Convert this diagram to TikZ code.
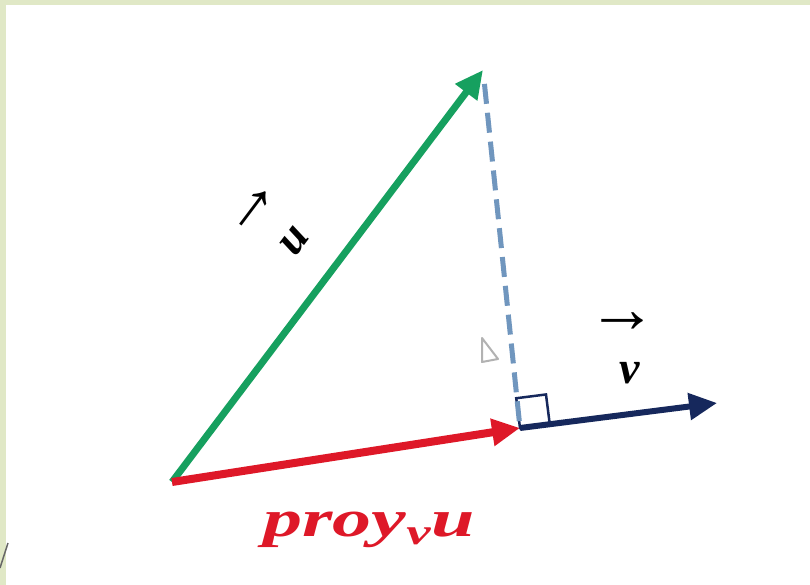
\documentclass[tikz,border=0pt]{standalone}
\usepackage{amsmath}
\usepackage{fontspec}
\setmainfont{Liberation Serif}
\usetikzlibrary{arrows.meta, calc}

\definecolor{vecgreen}{RGB}{22,160,95}
\definecolor{vecred}{RGB}{222,24,40}
\definecolor{vecnavy}{RGB}{22,40,92}
\definecolor{dashblue}{RGB}{112,150,190}
\definecolor{slidegreen}{RGB}{224,232,198}

\begin{document}
\begin{tikzpicture}[
    x=1pt, y=-1pt,
    vector/.style={line width=#1, -{Triangle[length=28pt, width=26pt]}},
    veclabel/.style={font=\fontsize{46}{46}\selectfont\bfseries\itshape, inner sep=0pt},
    arrowlabel/.style={font=\fontsize{70}{70}\selectfont\bfseries, inner sep=0pt}
]
% slide background
\useasboundingbox (0,0) rectangle (810,585);
\fill[slidegreen] (0,0) rectangle (810,585);
\fill[white] (6,5) rectangle (810,585);
\draw[black!60, line width=1.5pt] (8,543) -- (0,568);

\coordinate (O) at (172,482);
\coordinate (U) at (483,70);
\coordinate (P) at (520,428);
\coordinate (V) at (717,403);

% right angle mark
\coordinate (Sa) at ($(P)!30pt!(V)$);
\coordinate (Sb) at ($(P)!30pt!90:(V)$);
\draw[vecnavy, line width=2.5pt] (P) -- (Sa) -- ($(Sa)+(Sb)-(P)$) -- (Sb) -- cycle;

\draw[dashblue, line width=5pt, dash pattern=on 20pt off 9pt, shorten <=14pt] (U) -- (P);
\draw[black!30, line width=2pt, line join=round] (482,338) -- (482,362) -- (498,359) -- cycle;

\draw[vecnavy, vector=6pt] (P) -- (V);
\draw[vecgreen, vector=7pt] (O) -- (U);
\draw[vecred, vector=8pt] (O) -- (P);

% labels
\node[veclabel, rotate=53] (ulabel) at (295,241) {u};
\node[arrowlabel, rotate=53] (uarrow) at ($(ulabel)+(-40,-31)$) {→};
\node[veclabel] (vlabel) at (630,373) {v};
\node[arrowlabel] (varrow) at ($(vlabel)+(-8,-50)$) {→};
\node[veclabel, text=vecred, font=\fontsize{52}{52}\selectfont\bfseries\itshape, xscale=1.5] (projlabel) at (369,530) {proy\textsubscript{v}u};
\end{tikzpicture}
\end{document}
